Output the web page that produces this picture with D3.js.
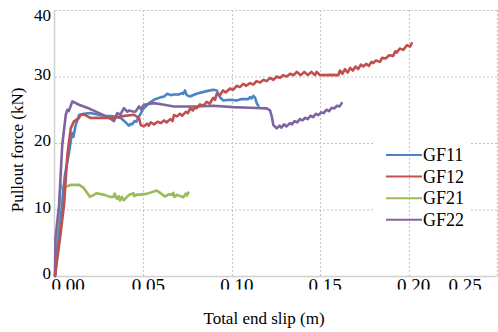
<!DOCTYPE html>
<html><head><meta charset="utf-8">
<script src="https://cdn.jsdelivr.net/npm/d3@7"></script>
<style>
html,body{margin:0;padding:0;background:#fff;}
svg{display:block;}
text{font-family:"Liberation Serif","Times New Roman",serif;fill:#000;}
</style></head>
<body><svg id="chart" width="498" height="332"></svg>
<script>
const xTicks = [0, 0.05, 0.10, 0.15, 0.20, 0.25];
const yTicks = [0, 10, 20, 30, 40];
const seriesNames = ["GF11", "GF12", "GF21", "GF22"];
const seriesColors = ["#4a84c4", "#c0504d", "#9bbb59", "#8064a2"];

const gf11 = [[0,0],[0.003,8],[0.0055,15],[0.0079,18.5],[0.0092,20.8],[0.0098,21.5],[0.0104,20.9],[0.0117,22.7],[0.0136,24.2],[0.0164,24.4],[0.020,24.5],[0.0277,24.1],[0.0334,24.0],[0.0372,23.75],[0.040,23.1],[0.0419,22.6],[0.0428,22.9],[0.0437,22.8],[0.0450,23.3],[0.0460,23.2],[0.0475,24.0],[0.0485,24.4],[0.0494,25.0],[0.0510,25.4],[0.0532,26.0],[0.0560,26.5],[0.0600,26.9],[0.0617,27.0],[0.0635,27.4],[0.0655,27.2],[0.0673,27.3],[0.0700,27.3],[0.0718,27.5],[0.0726,27.4],[0.0735,27.9],[0.0745,27.2],[0.0764,27.0],[0.080,27.4],[0.0858,27.8],[0.0895,28.0],[0.0915,27.9],[0.0933,26.9],[0.0950,26.4],[0.0990,26.5],[0.1028,26.4],[0.1056,26.6],[0.1093,26.6],[0.1103,26.9],[0.1112,26.7],[0.1122,27.1],[0.1132,26.8],[0.1141,26.0],[0.1150,25.6]];

const gf12 = [[0,0],[0.003,6],[0.0051,10.7],[0.0070,18.2],[0.0089,22.2],[0.0107,23.25],[0.0136,23.75],[0.0145,24.25],[0.0164,24.3],[0.0202,23.75],[0.0239,23.8],[0.0324,23.75],[0.0372,24.0],[0.0447,24.25],[0.0475,23.75],[0.0485,22.7],[0.0503,22.5],[0.052,22.9],[0.053,22.6],[0.0541,23.1],[0.056,22.8],[0.058,23.2],[0.060,23.0],[0.0617,23.4],[0.063,23.1],[0.0654,23.6],[0.0665,23.3],[0.0673,24.2],[0.069,24.0],[0.0707,24.4],[0.072,24.1],[0.074,24.7],[0.0752,24.5],[0.0764,25.2],[0.078,24.9],[0.0792,25.4],[0.080,25.2],[0.082,25.8],[0.0839,25.6],[0.0858,26.2],[0.0875,25.9],[0.0895,26.8],[0.0905,26.5],[0.0915,27.4],[0.0933,27.2],[0.0950,27.9],[0.0965,27.6],[0.0990,28.2],[0.1007,28.0],[0.1028,28.6],[0.1046,28.4],[0.1065,28.9],[0.108,28.6],[0.1103,29.0],[0.1122,28.8],[0.114,29.3],[0.116,29.1],[0.118,29.5],[0.1197,29.3],[0.1216,29.8],[0.1235,29.5],[0.1254,30.0],[0.1273,29.8],[0.129,30.2],[0.1311,30.0],[0.133,30.4],[0.135,30.2],[0.1367,30.7],[0.139,30.2],[0.141,30.7],[0.143,30.2],[0.145,30.7],[0.147,30.2],[0.148,30.7],[0.1499,30.2],[0.152,30.2],[0.156,30.25],[0.1602,30.2],[0.1612,30.9],[0.1625,30.4],[0.164,31.1],[0.1655,30.6],[0.167,31.3],[0.1685,30.9],[0.170,31.5],[0.1715,31.1],[0.1730,31.8],[0.1744,31.5],[0.176,31.9],[0.1775,31.6],[0.179,32.2],[0.1800,32.0],[0.1815,32.4],[0.1838,32.2],[0.185,32.8],[0.187,32.7],[0.189,33.2],[0.1913,33.1],[0.1925,33.8],[0.1933,33.6],[0.195,34.2],[0.197,34.0],[0.199,34.7],[0.2008,34.5],[0.2018,35.0]];

const gf21 = [[0,0],[0.0032,13.7],[0.0041,13.2],[0.0055,13.4],[0.0089,13.7],[0.0136,13.7],[0.0145,13.55],[0.016,13.3],[0.0198,11.9],[0.022,12.2],[0.0236,12.45],[0.028,12.2],[0.0311,11.9],[0.033,11.9],[0.0338,12.4],[0.0345,11.8],[0.0352,11.6],[0.0360,12.0],[0.0368,11.35],[0.0378,11.9],[0.0388,11.4],[0.0400,11.7],[0.0419,12.2],[0.0443,12.45],[0.0448,12.0],[0.0460,12.2],[0.0519,12.35],[0.0575,12.85],[0.0595,12.5],[0.0622,11.95],[0.0645,12.3],[0.0660,12.2],[0.0669,12.5],[0.0675,11.9],[0.0690,12.2],[0.0726,11.85],[0.0740,12.4],[0.0746,12.1],[0.0754,12.55]];

const gf22 = [[0,0],[0.0003,5.7],[0.0023,10.7],[0.0041,19.7],[0.0061,24.25],[0.0070,25.0],[0.0078,24.8],[0.0098,26.25],[0.0136,25.75],[0.020,25.1],[0.025,24.5],[0.030,23.9],[0.0334,23.3],[0.0352,24.5],[0.037,24.3],[0.0390,25.25],[0.041,24.7],[0.0419,24.9],[0.0447,24.7],[0.0456,24.75],[0.0475,25.5],[0.0485,25.1],[0.0503,25.75],[0.056,26.0],[0.0617,25.75],[0.0673,25.5],[0.080,25.5],[0.0895,25.6],[0.1007,25.4],[0.110,25.3],[0.1197,25.2],[0.1216,24.9],[0.1226,24.0],[0.1235,22.7],[0.1254,22.2],[0.127,22.6],[0.128,22.3],[0.1295,22.8],[0.131,22.5],[0.1329,23.0],[0.134,22.8],[0.1355,23.3],[0.137,23.1],[0.1385,23.6],[0.140,23.4],[0.1415,23.8],[0.143,23.6],[0.1445,24.1],[0.146,23.9],[0.1475,24.4],[0.149,24.2],[0.1505,24.6],[0.152,24.5],[0.1535,25.0],[0.155,24.8],[0.1565,25.3],[0.158,25.2],[0.1595,25.6],[0.161,25.5],[0.1622,26.0]];

const allSeries = [gf11, gf12, gf21, gf22];

const svg = d3.select("#chart");
const W = 498, H = 332;
const x = d3.scaleLinear().domain([0, 0.25]).range([55, 497]);
const y = d3.scaleLinear().domain([0, 40]).range([276, 10]);

const gridColor = "#c4c4c4";
// horizontal gridlines
svg.append("g").selectAll("line").data(yTicks.filter(d => d > 0)).join("line")
  .attr("x1", x(0)).attr("x2", x(0.25))
  .attr("y1", d => y(d) + 0.5).attr("y2", d => y(d) + 0.5)
  .attr("stroke", gridColor).attr("stroke-width", 1).attr("stroke-dasharray", "2,2");

// legend background hides horizontal gridlines
const legX = 386, legY0 = 155, legStep = 21.6;
svg.append("rect").attr("x", 374).attr("y", 140).attr("width", 96).attr("height", 92).attr("fill", "#fff");

// vertical gridlines
svg.append("g").selectAll("line").data(xTicks.filter(d => d > 0)).join("line")
  .attr("x1", d => Math.round(x(d)) + 0.5).attr("x2", d => Math.round(x(d)) + 0.5)
  .attr("y1", y(40)).attr("y2", y(0))
  .attr("stroke", gridColor).attr("stroke-width", 1).attr("stroke-dasharray", "2,2");

// axes lines
svg.append("line").attr("x1", x(0)).attr("x2", x(0.25)).attr("y1", y(0) + 0.5).attr("y2", y(0) + 0.5)
  .attr("stroke", "#d0d0d0").attr("stroke-width", 1.5);
svg.append("line").attr("x1", x(0) - 0.5).attr("x2", x(0) - 0.5).attr("y1", y(40)).attr("y2", y(0))
  .attr("stroke", "#d0d0d0").attr("stroke-width", 1.5);

// y tick labels
svg.append("g").selectAll("text").data(yTicks).join("text")
  .attr("x", 51)
  .attr("y", d => Math.max(y(d) - 3, 15) + 6)
  .attr("text-anchor", "end")
  .attr("font-size", 17)
  .text(d => d);

// x tick labels (clipped at bottom)
svg.append("defs").append("clipPath").attr("id", "xclip")
  .append("rect").attr("x", 0).attr("y", 270).attr("width", W).attr("height", 19.5);
svg.append("g").attr("clip-path", "url(#xclip)").selectAll("text").data(xTicks).join("text")
  .attr("x", d => Math.min(Math.max(x(d) + 5, 68), 465))
  .attr("y", 292)
  .attr("text-anchor", "middle")
  .attr("font-size", 19)
  .text(d => d3.format(".2f")(d));

// axis titles
svg.append("text").attr("x", 264).attr("y", 324).attr("text-anchor", "middle")
  .attr("font-size", 17).text("Total end slip (m)");
svg.append("text").attr("transform", "translate(23,150) rotate(-90)").attr("text-anchor", "middle")
  .attr("font-size", 17).text("Pullout force (kN)");

// data lines
const line = d3.line().x(d => x(d[0])).y(d => y(d[1]));
const order = [2, 0, 3, 1];
svg.append("g").selectAll("path").data(order).join("path")
  .attr("d", i => line(allSeries[i]))
  .attr("fill", "none")
  .attr("stroke", i => seriesColors[i])
  .attr("stroke-width", 2.6)
  .attr("stroke-linejoin", "round")
  .attr("stroke-linecap", "round");

// legend
const leg = svg.append("g");
seriesNames.forEach((n, i) => {
  const yy = legY0 + i * legStep;
  leg.append("line").attr("x1", legX).attr("x2", 422).attr("y1", yy).attr("y2", yy)
    .attr("stroke", seriesColors[i]).attr("stroke-width", 2);
  leg.append("text").attr("x", 423).attr("y", yy + 6).attr("font-size", 18).text(n);
});
</script></body></html>
